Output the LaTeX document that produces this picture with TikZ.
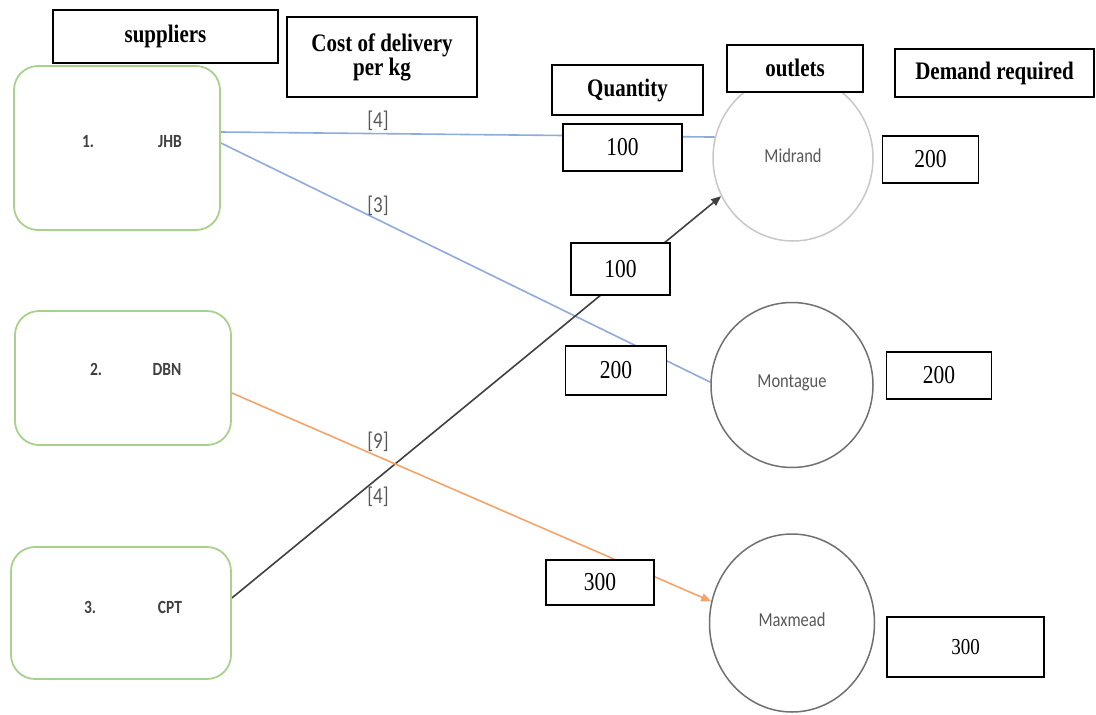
\documentclass[tikz,border=0pt]{standalone}
\usepackage{graphicx}
\usepackage{fontspec}
\setmainfont{Liberation Serif}
\newfontfamily\carl{Carlito}
\usetikzlibrary{shapes.geometric,arrows.meta,backgrounds}
\definecolor{boxgreen}{HTML}{A9D18E}
\definecolor{lineblue}{HTML}{8FAADC}
\definecolor{lineorange}{HTML}{F4A46A}
\definecolor{linedark}{HTML}{404040}
\definecolor{txtgray}{HTML}{595959}
\definecolor{lightring}{HTML}{C8C8C8}
\definecolor{darkring}{HTML}{707070}
\newcommand{\vst}[1]{\scalebox{1}[1.2]{#1}}
\begin{document}
\begin{tikzpicture}[x=1pt,y=-1pt,
  hdr/.style={draw=black,line width=1.3pt,fill=white,align=center,
    font=\bfseries\fontsize{21}{25}\selectfont,inner sep=0pt},
  qty/.style={draw=black,line width=1.3pt,fill=white,
    font=\fontsize{21.5}{24}\selectfont,inner sep=0pt},
  supp/.style={draw=boxgreen,line width=1.8pt,rounded corners=24pt,fill=white,inner sep=0pt},
  supptxt/.style={font=\carl\bfseries\fontsize{15.5}{18}\selectfont,text=black!75,inner sep=0pt},
  outlet/.style={ellipse,draw=#1,line width=1.5pt,fill=white,inner sep=0pt,
    font=\carl\fontsize{16.5}{19}\selectfont,text=txtgray},
  costlbl/.style={font=\carl\fontsize{19}{22}\selectfont,text=txtgray,inner sep=0pt},
  link/.style={line width=1.6pt},
  tip/.style={-{Triangle[length=10pt,width=8pt]}}]
\useasboundingbox (0,0) rectangle (1096,715);

% supplier boxes
\node[supp,minimum width=206pt,minimum height=164pt] (j) at (117,148) {};
\node[supp,minimum width=216pt,minimum height=134pt] (d) at (123,378) {};
\node[supp,minimum width=220pt,minimum height=132pt] (c) at (121,613) {};
\node[supptxt] (j1) at (88,142) {\vst{1.}};
\node[supptxt] (j2) at (170,142) {\vst{JHB}};
\node[supptxt] (d1) at (96,369) {\vst{2.}};
\node[supptxt] (d2) at (167,369) {\vst{DBN}};
\node[supptxt] (c1) at (90,607) {\vst{3.}};
\node[supptxt] (c2) at (170,607) {\vst{CPT}};

% outlets
\node[outlet=lightring,minimum width=160pt,minimum height=166pt] (m1) at (793,158) {\raisebox{5pt}{\vst{Midrand}}};
\node[outlet=darkring,minimum width=162pt,minimum height=165pt] (m2) at (792,385) {\raisebox{7pt}{\vst{Montague}}};
\node[outlet=darkring,minimum width=165pt,minimum height=178pt] (m3) at (792,623) {\raisebox{6pt}{\vst{Maxmead}}};

% headers
\node[hdr,minimum width=225pt,minimum height=53pt] (hs) at (165.5,36.5) {\raisebox{3pt}{\vst{suppliers}}};
\node[hdr,minimum width=190pt,minimum height=80pt] (hc) at (382,57) {\vst{Cost of delivery}\\[-1pt]\vst{per kg}};
\node[hdr,minimum width=151pt,minimum height=50pt] (hq) at (627.5,90) {\vst{Quantity}};
\node[hdr,minimum width=136pt,minimum height=47pt] (ho) at (795,68.5) {\raisebox{2pt}{\vst{outlets}}};
\node[hdr,minimum width=199pt,minimum height=48pt] (hd) at (994.5,73) {\vst{Demand required}};

% quantity boxes
\node[qty,minimum width=119pt,minimum height=47pt] (q1) at (622.5,147.5) {\vst{100}};
\node[qty,minimum width=99pt,minimum height=52pt] (q2) at (620.5,269) {\vst{100}};
\node[qty,minimum width=101pt,minimum height=49pt] (q3) at (616,370.5) {\vst{200}};
\node[qty,minimum width=108pt,minimum height=45pt] (q4) at (600,582.5) {\vst{300}};

% demand boxes
\node[qty,minimum width=96pt,minimum height=47pt] (r1) at (930.5,159.5) {\vst{200}};
\node[qty,minimum width=105pt,minimum height=47pt] (r2) at (939,375.5) {\vst{200}};
\node[qty,line width=2pt,minimum width=157pt,minimum height=60pt,font=\fontsize{19}{22}\selectfont] (r3) at (965.5,647) {\vst{300}};

% links
\begin{pgfonlayer}{background}
\draw[link,lineblue] ([yshift=16pt]j.east) -- (m1.165);
\draw[link,lineblue] ([yshift=5pt]j.east) -- (m2.178);
\draw[link,linedark,tip] ([yshift=15pt]c.east) -- (m1.208);
\draw[link,lineorange,tip] ([yshift=-15pt]d.east) -- (m3.165);
\end{pgfonlayer}

% costs
\node[costlbl] (k1) at (378,121) {\vst{[4]}};
\node[costlbl] (k2) at (378,206) {\vst{[3]}};
\node[costlbl] (k3) at (378,442) {\vst{[9]}};
\node[costlbl] (k4) at (378,497) {\vst{[4]}};
\end{tikzpicture}
\end{document}
